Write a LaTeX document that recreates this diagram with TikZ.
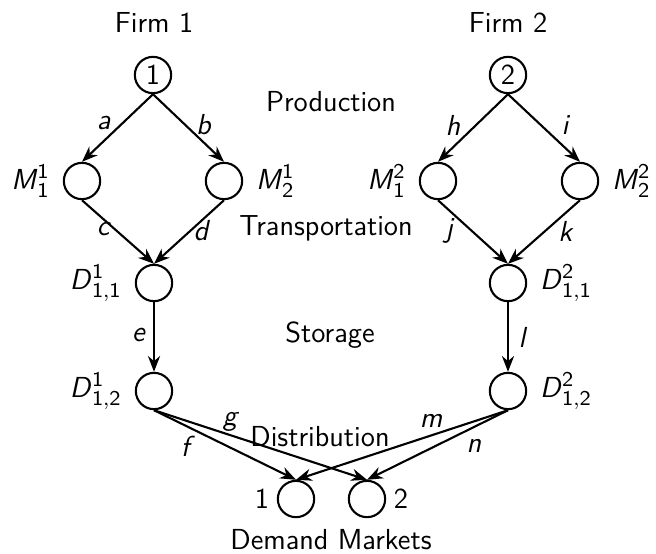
\documentclass[tikz,border=0pt]{standalone}
\usepackage{amsmath}
\usetikzlibrary{arrows.meta}
\renewcommand{\familydefault}{\sfdefault}
\begin{document}
\begin{tikzpicture}[x=0.38pt,y=-0.38pt,
  every node/.style={font=\fontsize{11}{13}\selectfont},
  vtx/.style={circle,draw,line width=0.8pt,minimum size=13.8pt,inner sep=0pt},
  flow/.style={line width=0.8pt,-{Stealth[length=6pt,width=4.6pt]}},
  lbl/.style={inner sep=0pt}]
\useasboundingbox (0,0) rectangle (656,553);
% titles
\node[lbl] (f1) at (154,22) {Firm 1};
\node[lbl] (f2) at (508,22) {Firm 2};
\node[lbl] (prod) at (331,102) {Production};
\node[lbl] (trans) at (326,228) {Transportation};
\node[lbl] (stor) at (330,335) {Storage};
\node[lbl] (dist) at (320,437) {Distribution};
\node[lbl] (dm) at (331,540) {Demand Markets};
% nodes
\node[vtx] (n1) at (153,75) {1};
\node[vtx] (n2) at (508,75) {2};
\node[vtx] (m11) at (82,181) {};
\node[vtx] (m21) at (224,181) {};
\node[vtx] (m12) at (438,181) {};
\node[vtx] (m22) at (580,181) {};
\node[vtx] (d11a) at (154,283) {};
\node[vtx] (d11b) at (508,283) {};
\node[vtx] (d12a) at (154,391) {};
\node[vtx] (d12b) at (508,391) {};
\node[vtx] (k1) at (296,499) {};
\node[vtx] (k2) at (367,499) {};
% node labels
\node[lbl,anchor=east] at ([xshift=-12pt]m11.center) {\textit{M}$^{\mathsf{1}}_{\mathsf{1}}$};
\node[lbl,anchor=west] at ([xshift=12pt]m21.center) {\textit{M}$^{\mathsf{1}}_{\mathsf{2}}$};
\node[lbl,anchor=east] at ([xshift=-12pt]m12.center) {\textit{M}$^{\mathsf{2}}_{\mathsf{1}}$};
\node[lbl,anchor=west] at ([xshift=12pt]m22.center) {\textit{M}$^{\mathsf{2}}_{\mathsf{2}}$};
\node[lbl,anchor=east] at ([xshift=-12pt]d11a.center) {\textit{D}$^{\mathsf{1}}_{\mathsf{1,1}}$};
\node[lbl,anchor=west] at ([xshift=12pt]d11b.center) {\textit{D}$^{\mathsf{2}}_{\mathsf{1,1}}$};
\node[lbl,anchor=east] at ([xshift=-12pt]d12a.center) {\textit{D}$^{\mathsf{1}}_{\mathsf{1,2}}$};
\node[lbl,anchor=west] at ([xshift=12pt]d12b.center) {\textit{D}$^{\mathsf{2}}_{\mathsf{1,2}}$};
\node[lbl,anchor=east] at ([xshift=-10pt]k1.center) {1};
\node[lbl,anchor=west] at ([xshift=10pt]k2.center) {2};
% edges
\draw[flow] (n1.south) -- (m11.north);
\draw[flow] (n1.south) -- (m21.north);
\draw[flow] (n2.south) -- (m12.north);
\draw[flow] (n2.south) -- (m22.north);
\draw[flow] (m11.south) -- (d11a.north);
\draw[flow] (m21.south) -- (d11a.north);
\draw[flow] (m12.south) -- (d11b.north);
\draw[flow] (m22.south) -- (d11b.north);
\draw[flow] (d11a.south) -- (d12a.north);
\draw[flow] (d11b.south) -- (d12b.north);
\draw[flow] (d12a.south) -- (k1.north);
\draw[flow] (d12a.south) -- (k2.north);
\draw[flow] (d12b.south) -- (k1.north);
\draw[flow] (d12b.south) -- (k2.north);
% edge labels
\node[lbl] at (104,123) {\textit{a}};
\node[lbl] at (204,125) {\textit{b}};
\node[lbl] at (104,229) {\textit{c}};
\node[lbl] at (202,231) {\textit{d}};
\node[lbl] at (453,125) {\textit{h}};
\node[lbl] at (566,125) {\textit{i}};
\node[lbl] at (450,231) {\textit{j}};
\node[lbl] at (566,231) {\textit{k}};
\node[lbl] at (139,335) {\textit{e}};
\node[lbl] at (523,337) {\textit{l}};
\node[lbl] at (231,422) {\textit{g}};
\node[lbl] at (188,446) {\textit{f}};
\node[lbl] at (431,421) {\textit{m}};
\node[lbl] at (474,446) {\textit{n}};
\end{tikzpicture}
\end{document}
